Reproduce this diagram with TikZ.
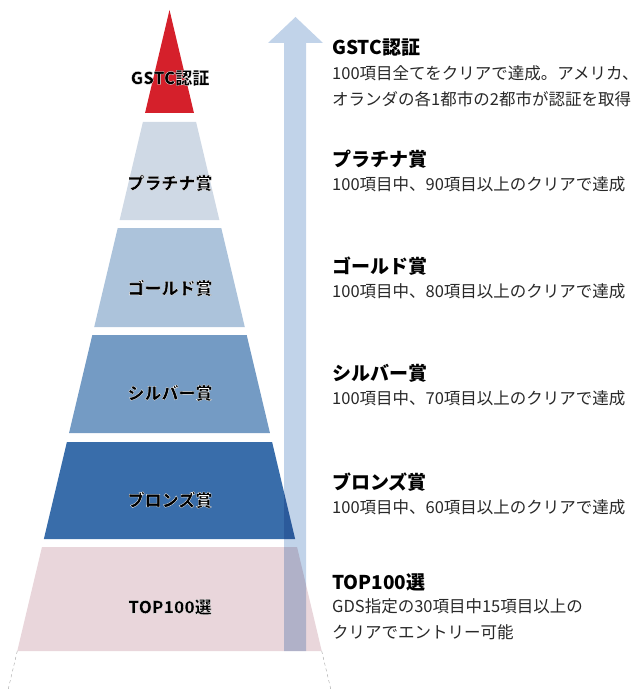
\documentclass[tikz,border=0pt]{standalone}
\usepackage{fontspec}
\setmainfont{Noto Sans CJK JP}
\usepackage{tikz}
\usetikzlibrary{calc,positioning}
\definecolor{gstcRed}{RGB}{213,32,43}
\definecolor{platBlue}{RGB}{207,217,229}
\definecolor{goldBlue}{RGB}{172,195,219}
\definecolor{silverBlue}{RGB}{116,155,196}
\definecolor{bronzeBlue}{RGB}{57,109,170}
\definecolor{topPink}{RGB}{233,214,219}
\definecolor{arrowBlue}{RGB}{193,211,233}
\definecolor{descGray}{RGB}{40,40,40}
\definecolor{guideGray}{RGB}{160,160,160}
\newcommand{\apexx}{169.5}
\newcommand{\apexy}{10}
\newcommand{\sideslope}{0.2375}
% black text with a thin white rim (stroked glyphs)
\newcommand{\rimtext}[1]{\special{pdf:code 2 Tr 1 1 1 RG 0.3 w}#1\special{pdf:code 0 Tr}}
\tikzset{
  x=1pt,y=-1pt,
  lvl/.style={font=\fontsize{17}{19}\selectfont\bfseries,inner sep=0},
  ttl/.style={font=\fontsize{19}{21}\selectfont\bfseries,anchor=west,inner sep=0},
  desc/.style={font=\fontsize{16.5}{26}\selectfont,align=left,inner sep=0,text=descGray},
  guide/.style={draw=guideGray,dashed,thin},
  upArrow/.style={fill=arrowBlue,blend mode=multiply},
}
\begin{document}
\begin{tikzpicture}
    \useasboundingbox (0,0) rectangle (642,690);

    % pyramid layers, top to bottom
    \foreach \top/\bot/\col in {10/113/gstcRed,122/220/platBlue,228/327/goldBlue,
                                335/433/silverBlue,442/539/bronzeBlue,547/651/topPink} {
      \pgfmathsetmacro{\wt}{\sideslope*(\top-\apexy)}
      \pgfmathsetmacro{\wb}{\sideslope*(\bot-\apexy)}
      \fill[\col] (\apexx-\wt,\top) -- (\apexx+\wt,\top) -- (\apexx+\wb,\bot) -- (\apexx-\wb,\bot) -- cycle;
    }

    \coordinate (baseL) at (17.3,651);
    \coordinate (baseR) at (321.7,651);
    \coordinate (footL) at (8,690);
    \coordinate (footR) at (331,690);
    \path [guide] (baseL) -- (footL);
    \path [guide] (baseR) -- (footR);

    \begin{scope}[blend mode=multiply]
      \fill[upArrow] (284,651) -- (284,43) -- (268,43) -- (295.5,17) -- (323,43) -- (306,43) -- (306,651) -- cycle;
    \end{scope}

    \node (gstc) [lvl] at (170,78) {\rimtext{GSTC認証}};
    \node (plat) [lvl] at (170,183) {\rimtext{プラチナ賞}};
    \node (gold) [lvl] at (170,288) {\rimtext{ゴールド賞}};
    \node (silver) [lvl] at (170,393) {\rimtext{シルバー賞}};
    \node (bronze) [lvl] at (170,500) {\rimtext{ブロンズ賞}};
    \node (top) [lvl] at (170,607) {\rimtext{TOP100選}};

    \node (gstcT) [ttl] at (332,48) {GSTC認証};
    \node (gstcD) [desc,below=8pt of gstcT.south west,anchor=north west] {100項目全てをクリアで達成。アメリカ、\\オランダの各1都市の2都市が認証を取得};
    \node (platT) [ttl] at (332,159) {プラチナ賞};
    \node (platD) [desc,below=8pt of platT.south west,anchor=north west] {100項目中、90項目以上のクリアで達成};
    \node (goldT) [ttl] at (332,266) {ゴールド賞};
    \node (goldD) [desc,below=8pt of goldT.south west,anchor=north west] {100項目中、80項目以上のクリアで達成};
    \node (silverT) [ttl] at (332,373) {シルバー賞};
    \node (silverD) [desc,below=8pt of silverT.south west,anchor=north west] {100項目中、70項目以上のクリアで達成};
    \node (bronzeT) [ttl] at (332,482) {ブロンズ賞};
    \node (bronzeD) [desc,below=8pt of bronzeT.south west,anchor=north west] {100項目中、60項目以上のクリアで達成};
    \node (topT) [ttl] at (332,582) {TOP100選};
    \node (topD) [desc,below=8pt of topT.south west,anchor=north west] {GDS指定の30項目中15項目以上の\\クリアでエントリー可能};
\end{tikzpicture}
\end{document}
